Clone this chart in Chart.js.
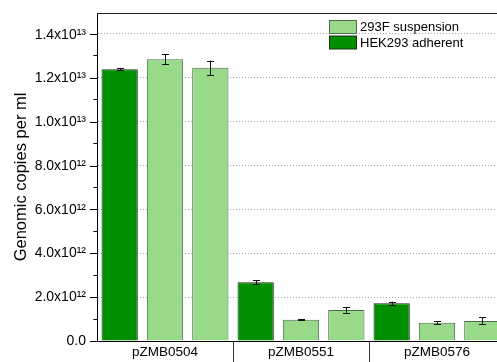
<!DOCTYPE html>
<html>
<head>
<meta charset="utf-8">
<script src="https://cdn.jsdelivr.net/npm/chart.js@4/dist/chart.umd.min.js"></script>
<style>
  html, body { margin: 0; padding: 0; background: #fff; overflow: hidden; }
  #wrap { width: 505px; height: 362px; }
</style>
</head>
<body>
<div id="wrap"><canvas id="c" width="505" height="362"></canvas></div>
<script>
// Genomic titres per plasmid and cell system
const categories = ['pZMB0504', 'pZMB0551', 'pZMB0576'];

const adherent       = [12.35e12, 2.67e12, 1.71e12];
const adherentErr    = [0.04e12, 0.08e12, 0.08e12];
const suspensionA    = [12.80e12, 0.97e12, 0.83e12];
const suspensionAErr = [0.22e12, 0.02e12, 0.08e12];
const suspensionB    = [12.41e12, 1.41e12, 0.91e12];
const suspensionBErr = [0.33e12, 0.13e12, 0.16e12];

const yTickValues = [0, 2e12, 4e12, 6e12, 8e12, 1.0e13, 1.2e13, 1.4e13];
const yTickLabels = ['0.0', '2.0x10¹²', '4.0x10¹²', '6.0x10¹²', '8.0x10¹²', '1.0x10¹³', '1.2x10¹³', '1.4x10¹³'];

const legendItems = [
  { text: '293F suspension', fill: '#99d98a', stroke: '#4f6a4f' },
  { text: 'HEK293 adherent', fill: '#008f00', stroke: '#1c2c1c' }
];

const FONT = "'Liberation Sans', Arial, Helvetica, sans-serif";
const DARK = '#008f00', DARK_EDGE = '#1c2c1c';
const LIGHT = '#99d98a', LIGHT_EDGE = '#4f6a4f';

const labelIndex = v => yTickValues.findIndex(t => Math.round(t / 1e12) === Math.round(v / 1e12));
const isMajor = v => labelIndex(v) >= 0;

const decor = {
  id: 'decor',
  beforeDatasetsDraw(chart) {
    const { ctx, chartArea: a, scales: { y } } = chart;
    ctx.save();
    ctx.strokeStyle = '#a8a8a8';
    ctx.lineWidth = 1;
    ctx.setLineDash([1, 2]);
    yTickValues.forEach(v => {
      if (v === 0) return;
      const py = Math.round(y.getPixelForValue(v)) + 0.5;
      ctx.beginPath();
      ctx.moveTo(a.left + 1, py);
      ctx.lineTo(a.right, py);
      ctx.stroke();
    });
    ctx.restore();
  },
  afterDatasetsDraw(chart) {
    const { ctx, scales: { y } } = chart;
    ctx.save();
    ctx.strokeStyle = '#111';
    ctx.lineWidth = 1;
    chart.data.datasets.forEach((ds, i) => {
      const meta = chart.getDatasetMeta(i);
      meta.data.forEach((bar, j) => {
        const v = ds.data[j], e = ds.errors[j];
        const x = Math.round(bar.x) + 0.5;
        const yTop = y.getPixelForValue(v + e);
        const yBot = y.getPixelForValue(v - e);
        ctx.beginPath();
        ctx.moveTo(x, yTop); ctx.lineTo(x, yBot);
        ctx.moveTo(x - 3.5, Math.round(yTop) + 0.5); ctx.lineTo(x + 3.5, Math.round(yTop) + 0.5);
        ctx.moveTo(x - 3.5, Math.round(yBot) + 0.5); ctx.lineTo(x + 3.5, Math.round(yBot) + 0.5);
        ctx.stroke();
      });
    });
    ctx.restore();
  },
  afterDraw(chart) {
    const { ctx, chartArea: a, scales: { x, y } } = chart;
    ctx.save();
    // frame line along the top of the plot
    ctx.strokeStyle = '#222';
    ctx.lineWidth = 1;
    ctx.beginPath();
    ctx.moveTo(a.left, a.top + 0.5);
    ctx.lineTo(a.right, a.top + 0.5);
    ctx.stroke();
    // minor ticks on the value axis
    ctx.strokeStyle = '#000';
    for (let k = 1; k * 1e12 < y.max; k += 2) {
      const py = Math.round(y.getPixelForValue(k * 1e12)) + 0.5;
      ctx.beginPath();
      ctx.moveTo(a.left - 3.5, py);
      ctx.lineTo(a.left, py);
      ctx.stroke();
    }
    // separators between the category groups
    ctx.strokeStyle = '#333';
    for (let j = 0; j < categories.length - 1; j++) {
      const px = Math.round((x.getPixelForValue(j) + x.getPixelForValue(j + 1)) / 2) + 0.5;
      ctx.beginPath();
      ctx.moveTo(px, a.bottom);
      ctx.lineTo(px, chart.height);
      ctx.stroke();
    }
    // legend
    ctx.font = '13px ' + FONT;
    ctx.textBaseline = 'middle';
    ctx.textAlign = 'left';
    legendItems.forEach((item, i) => {
      const bx = 329.5, by = 20.5 + i * 15.5;
      ctx.fillStyle = item.fill;
      ctx.fillRect(bx, by, 27, 13);
      ctx.strokeStyle = item.stroke;
      ctx.strokeRect(bx, by, 27, 13);
      ctx.fillStyle = '#000';
      ctx.fillText(item.text, 360, by + 7);
    });
    ctx.restore();
  }
};

new Chart(document.getElementById('c'), {
  type: 'bar',
  data: {
    labels: categories,
    datasets: [
      { label: 'HEK293 adherent', data: adherent, errors: adherentErr,
        backgroundColor: DARK, borderColor: DARK_EDGE, borderWidth: 1 },
      { label: '293F suspension', data: suspensionA, errors: suspensionAErr,
        backgroundColor: LIGHT, borderColor: LIGHT_EDGE, borderWidth: 1 },
      { label: '293F suspension', data: suspensionB, errors: suspensionBErr,
        backgroundColor: LIGHT, borderColor: LIGHT_EDGE, borderWidth: 1 }
    ]
  },
  options: {
    responsive: false,
    animation: false,
    devicePixelRatio: 1,
    layout: { padding: { top: 13, left: 0, right: 0, bottom: 0 } },
    datasets: { bar: { categoryPercentage: 1.0, barPercentage: 0.8 } },
    plugins: { legend: { display: false }, tooltip: { enabled: false } },
    scales: {
      x: {
        grid: { display: false, drawTicks: false },
        border: { display: true, color: '#000', width: 1 },
        ticks: { padding: 3, color: '#000', font: { family: FONT, size: 13.5 } },
        afterFit(scale) { scale.height = 21; }
      },
      y: {
        min: 0,
        max: 1.49e13,
        grid: {
          drawOnChartArea: false,
          tickLength: 7,
          tickColor: c => (c.tick && isMajor(c.tick.value)) ? '#000' : 'rgba(0,0,0,0)'
        },
        border: { display: true, color: '#000', width: 1 },
        ticks: {
          stepSize: 1e12,
          includeBounds: false,
          autoSkip: false,
          padding: 4,
          color: '#000',
          font: { family: FONT, size: 14 },
          callback: v => { const i = labelIndex(v); return i >= 0 ? yTickLabels[i] : ''; }
        },
        title: {
          display: true,
          text: 'Genomic copies per ml',
          color: '#000',
          font: { family: FONT, size: 16.5 },
          padding: { top: 12, bottom: 0 }
        },
        afterFit(scale) { scale.width = 97; }
      }
    }
  },
  plugins: [decor]
});
</script>
</body>
</html>
